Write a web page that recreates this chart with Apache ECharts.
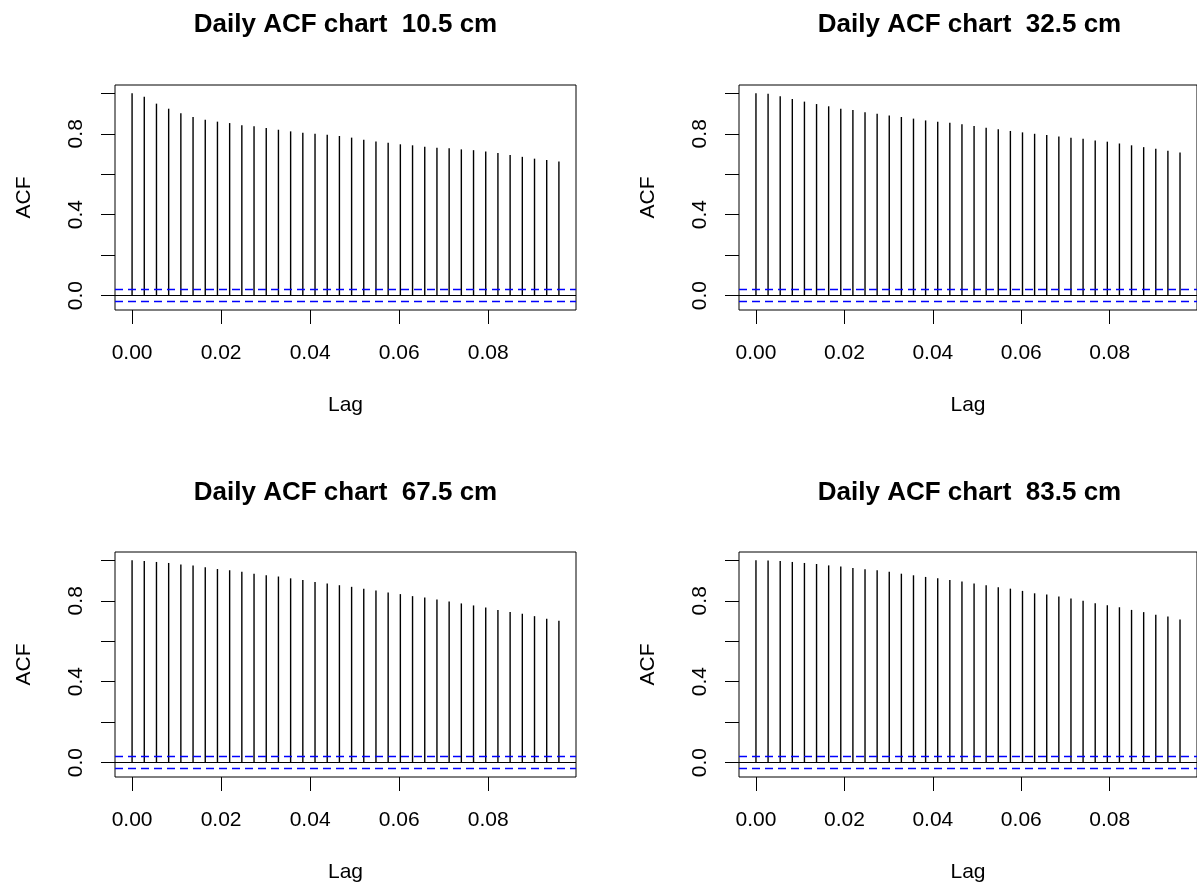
<!DOCTYPE html>
<html>
<head>
<meta charset="utf-8">
<script src="https://cdn.jsdelivr.net/npm/echarts@6/dist/echarts.min.js"></script>
<style>
html,body{margin:0;padding:0;background:#fff;}
#chart{width:1197px;height:884px;}
</style>
</head>
<body>
<div id="chart"></div>
<script>
// Lag values (days / 365)
var lags = [0, 0.00274, 0.00548, 0.00822, 0.01096, 0.01370, 0.01644, 0.01918, 0.02192,
  0.02466, 0.02740, 0.03014, 0.03288, 0.03562, 0.03836, 0.04110, 0.04384, 0.04658,
  0.04932, 0.05205, 0.05479, 0.05753, 0.06027, 0.06301, 0.06575, 0.06849, 0.07123,
  0.07397, 0.07671, 0.07945, 0.08219, 0.08493, 0.08767, 0.09041, 0.09315, 0.09589];

var panelTitles = ['Daily ACF chart  10.5 cm', 'Daily ACF chart  32.5 cm',
  'Daily ACF chart  67.5 cm', 'Daily ACF chart  83.5 cm'];

var acf105 = [1.000, 0.983, 0.949, 0.924, 0.901, 0.883, 0.870, 0.860, 0.853, 0.842,
  0.837, 0.828, 0.820, 0.812, 0.805, 0.800, 0.795, 0.789, 0.781, 0.771, 0.762, 0.756,
  0.748, 0.743, 0.736, 0.731, 0.728, 0.723, 0.719, 0.713, 0.705, 0.695, 0.686, 0.677,
  0.670, 0.663];
var acf325 = [1.000, 0.998, 0.985, 0.972, 0.959, 0.947, 0.936, 0.924, 0.917, 0.906,
  0.899, 0.891, 0.883, 0.875, 0.866, 0.860, 0.855, 0.847, 0.838, 0.830, 0.822, 0.814,
  0.807, 0.800, 0.794, 0.787, 0.781, 0.776, 0.767, 0.761, 0.752, 0.743, 0.734, 0.726,
  0.716, 0.708];
var acf675 = [1.000, 0.997, 0.992, 0.987, 0.979, 0.974, 0.966, 0.957, 0.951, 0.943,
  0.934, 0.926, 0.920, 0.911, 0.903, 0.893, 0.885, 0.877, 0.869, 0.859, 0.851, 0.841,
  0.833, 0.823, 0.816, 0.806, 0.796, 0.787, 0.777, 0.767, 0.755, 0.745, 0.736, 0.724,
  0.711, 0.701];
var acf835 = [1.000, 0.999, 0.997, 0.992, 0.987, 0.982, 0.975, 0.969, 0.962, 0.956,
  0.951, 0.943, 0.934, 0.926, 0.918, 0.911, 0.903, 0.895, 0.885, 0.877, 0.867, 0.860,
  0.849, 0.837, 0.831, 0.821, 0.811, 0.800, 0.788, 0.778, 0.768, 0.755, 0.744, 0.731,
  0.722, 0.708];

var ciBound = 0.03;
var xTicks = [0, 0.02, 0.04, 0.06, 0.08];
var yTicks = [0, 0.2, 0.4, 0.6, 0.8, 1.0];
var yTickLabels = [0, 0.4, 0.8];

var series = [acf105, acf325, acf675, acf835];

var FONT = '"Liberation Sans", Arial, sans-serif';
var layouts = [
  {left: 115, top: 85, height: 225},
  {left: 739, top: 85, height: 225},
  {left: 115, top: 552, height: 226},
  {left: 739, top: 552, height: 226}
];
var titleTops = [12, 12, 480, 480];

var option = {
  animation: false,
  backgroundColor: '#fff',
  title: [], grid: [], xAxis: [], yAxis: [], series: []
};

layouts.forEach(function (L, i) {
  option.title.push({
    text: panelTitles[i],
    left: L.left + 230.5, top: titleTops[i], textAlign: 'center', padding: 0,
    textStyle: {fontFamily: FONT, fontSize: 26, fontWeight: 'bold', color: '#000'}
  });
  option.grid.push({
    left: L.left, top: L.top, width: 461, height: L.height,
    show: true, borderColor: '#000', borderWidth: 1, backgroundColor: 'transparent',
    containLabel: false
  });
  option.xAxis.push({
    type: 'value', gridIndex: i, min: -0.003836, max: 0.09973,
    position: 'bottom',
    axisLine: {show: false, onZero: false},
    splitLine: {show: false},
    axisTick: {show: true, length: 14, lineStyle: {color: '#000', width: 1}, customValues: xTicks},
    axisLabel: {show: true, customValues: xTicks, margin: 33, fontSize: 21, fontFamily: FONT, color: '#000',
      formatter: function (v) { return v.toFixed(2); }},
    name: 'Lag', nameLocation: 'middle', nameGap: 85,
    nameTextStyle: {fontSize: 21, fontFamily: FONT, color: '#000'}
  });
  option.yAxis.push({
    type: 'value', gridIndex: i, min: -0.0712, max: 1.0412,
    axisLine: {show: false, onZero: false},
    splitLine: {show: false},
    axisTick: {show: true, length: 14, lineStyle: {color: '#000', width: 1}, customValues: yTicks},
    axisLabel: {show: true, customValues: yTickLabels, rotate: 90, margin: 28, fontSize: 21, fontFamily: FONT, color: '#000',
      formatter: function (v) { return v.toFixed(1); }},
    name: 'ACF', nameLocation: 'middle', nameGap: 80,
    nameTextStyle: {fontSize: 21, fontFamily: FONT, color: '#000'}
  });
  var data = lags.map(function (x, k) { return [x, series[i][k]]; });
  option.series.push({
    type: 'custom', xAxisIndex: i, yAxisIndex: i, data: data, silent: true,
    renderItem: function (params, api) {
      var x = api.value(0), v = api.value(1);
      var p0 = api.coord([x, 0]);
      var p1 = api.coord([x, v]);
      return {type: 'line', shape: {x1: p0[0], y1: p0[1], x2: p1[0], y2: p1[1]},
        style: {stroke: '#000', lineWidth: 1.4}};
    },
    markLine: {
      silent: true, symbol: ['none', 'none'], animation: false,
      label: {show: false},
      data: [
        {yAxis: 0, lineStyle: {color: '#000', type: 'solid', width: 1}},
        {yAxis: ciBound, lineStyle: {color: '#0000ff', type: [8, 5], width: 1.4}},
        {yAxis: -ciBound, lineStyle: {color: '#0000ff', type: [8, 5], width: 1.4}}
      ]
    }
  });
});

var chart = echarts.init(document.getElementById('chart'), null, {renderer: 'canvas'});
chart.setOption(option);
</script>
</body>
</html>
